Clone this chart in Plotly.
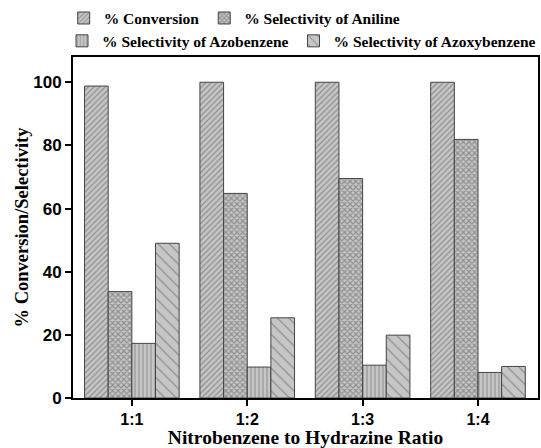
import plotly.graph_objects as go

categories = ["1:1", "1:2", "1:3", "1:4"]
conversion = [98.8, 100, 100, 100]
sel_aniline = [33.7, 64.8, 69.5, 81.9]
sel_azobenzene = [17.3, 9.8, 10.4, 8.1]
sel_azoxybenzene = [49.0, 25.4, 19.9, 10.0]

series = [
    ("% Conversion", conversion, "/", 4, 0.3, "legend"),
    ("% Selectivity of Aniline", sel_aniline, "x", 4, 0.5, "legend"),
    ("% Selectivity of Azobenzene", sel_azobenzene, "|", 4, 0.25, "legend2"),
    ("% Selectivity of Azoxybenzene", sel_azoxybenzene, "\\", 8, 0.15, "legend2"),
]

fig = go.Figure()
for name, vals, shape, size, sol, lg in series:
    fig.add_trace(go.Bar(
        x=categories, y=vals, name=name, legend=lg,
        marker=dict(
            color="#c6c6c6",
            line=dict(color="#444444", width=1),
            pattern=dict(shape=shape, size=size, solidity=sol,
                         fgcolor="#555555", bgcolor="#c6c6c6"),
        ),
    ))

serif = "Liberation Serif"
sans = "Liberation Sans"
lfont = dict(family=serif, size=15.5, color="black", weight="bold")

fig.update_layout(
    width=541, height=448,
    margin=dict(l=73, r=1, t=57, b=50),
    paper_bgcolor="white", plot_bgcolor="white",
    barmode="group", bargap=0.18, bargroupgap=0,
    showlegend=True,
    legend=dict(orientation="h", x=-0.02, y=1.163, xanchor="left", yanchor="top",
                font=lfont, itemwidth=30, tracegroupgap=0, bgcolor="rgba(0,0,0,0)"),
    legend2=dict(orientation="h", x=-0.02, y=1.096, xanchor="left", yanchor="top",
                 font=lfont, itemwidth=30, tracegroupgap=0, bgcolor="rgba(0,0,0,0)"),
    xaxis=dict(
        range=[-0.51, 3.52], showline=True, linecolor="black", linewidth=2,
        mirror=True, ticks="outside", ticklen=6, tickwidth=2, tickcolor="black",
        tickfont=dict(family=sans, size=16, color="black", weight="bold"),
        title=dict(text="Nitrobenzene to Hydrazine Ratio",
                   font=dict(family=serif, size=19.5, color="black", weight="bold"),
                   standoff=3),
    ),
    yaxis=dict(
        range=[0, 108], showline=True, linecolor="black", linewidth=2,
        mirror=True, ticks="outside", ticklen=6, tickwidth=2, tickcolor="black",
        tickvals=[0, 20, 40, 60, 80, 100], showgrid=False, zeroline=False,
        tickfont=dict(family=sans, size=17, color="black", weight="bold"),
        title=dict(text="% Conversion/Selectivity",
                   font=dict(family=serif, size=18.5, color="black", weight="bold"),
                   standoff=0),
    ),
)

fig.write_html("out.html")
